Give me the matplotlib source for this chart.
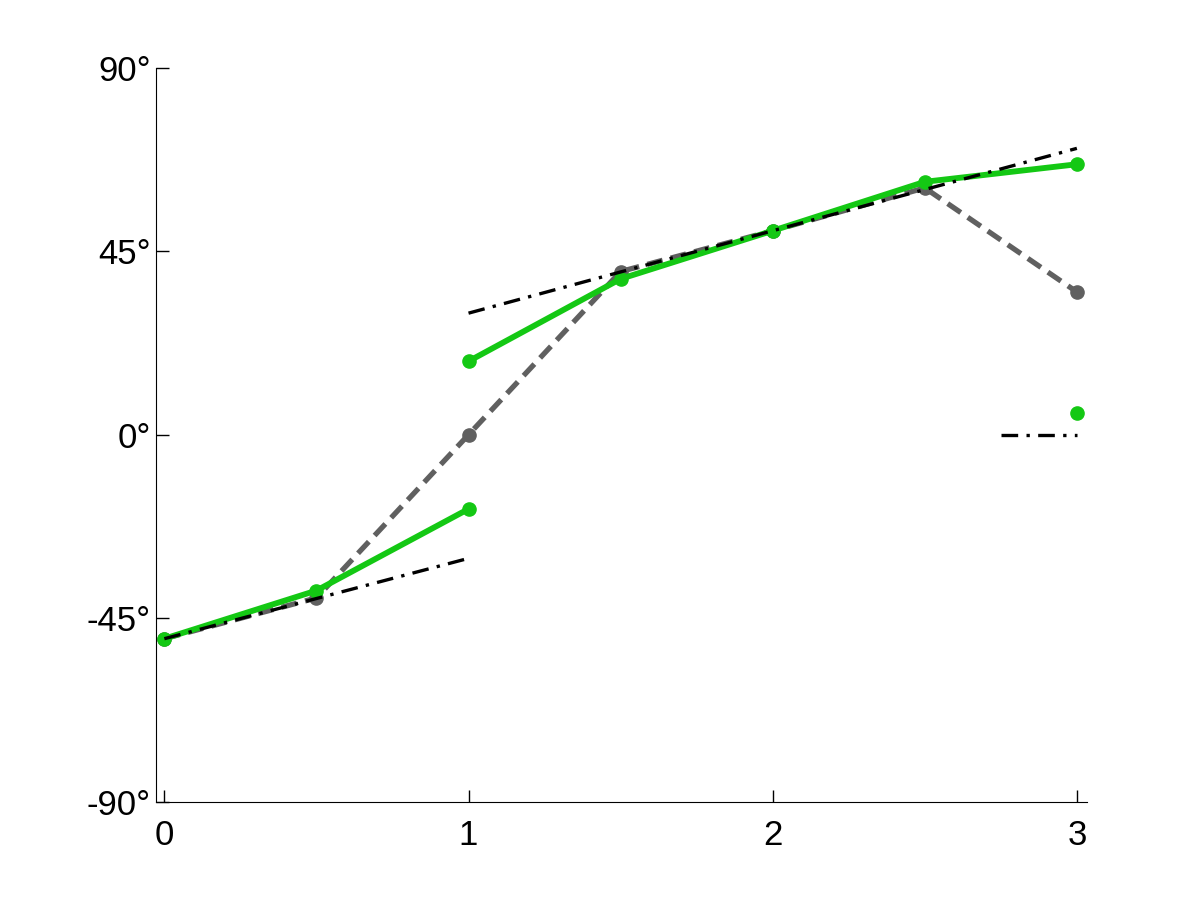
import numpy as np
import matplotlib
matplotlib.use("Agg")
from matplotlib import pyplot as plt

# data (degrees)
x_gray = [0, 0.5, 1, 1.5, 2, 2.5, 3]
y_gray = [-50, -40, 0, 40, 50, 60.5, 35]

x_green_a = [0, 0.5, 1]
y_green_a = [-50, -38.2, -18.2]
x_green_b = [1, 1.5, 2, 2.5, 3]
y_green_b = [18, 38.2, 50, 62, 66.3]
x_green_pt = [3]
y_green_pt = [5.4]

x_fit_a = [0, 1]
y_fit_a = [-50, -30.3]
x_fit_b = [1, 3]
y_fit_b = [29.8, 70.2]
x_fit_c = [2.75, 3]
y_fit_c = [0, 0]

xticks = [0, 1, 2, 3]
yticks = [-90, -45, 0, 45, 90]
ytick_labels = ["-90°", "-45°", "0°", "45°", "90°"]

GRAY = "#606060"
GREEN = "#14c814"

plt.rcParams["font.family"] = ["Liberation Sans", "DejaVu Sans"]

fig = plt.figure(figsize=(12.01, 9.01), dpi=100)
ax = fig.add_axes([0.13, 0.11, 0.775, 0.815])

ax.plot(x_gray, y_gray, color=GRAY, lw=3.8, ls=(0, (3, 1.6)),
        marker="o", ms=9.5, mec=GRAY, mfc=GRAY)

for xs, ys in [(x_green_a, y_green_a), (x_green_b, y_green_b), (x_green_pt, y_green_pt)]:
    ax.plot(xs, ys, color=GREEN, lw=4.2, marker="o", ms=9.5, mec=GREEN, mfc=GREEN)

for xs, ys in [(x_fit_a, y_fit_a), (x_fit_b, y_fit_b), (x_fit_c, y_fit_c)]:
    ax.plot(xs, ys, color="black", lw=2.4, ls=(0, (5, 2.5, 1, 2.5)))

ax.set_xlim(-0.027, 3.033)
ax.set_ylim(-90, 90)
ax.set_xticks(xticks)
ax.set_xticklabels([str(t) for t in xticks])
ax.set_yticks(yticks)
ax.set_yticklabels(ytick_labels)

ax.spines["top"].set_visible(False)
ax.spines["right"].set_visible(False)
ax.tick_params(direction="in", length=9, width=1, labelsize=25)
ax.tick_params(axis="x", pad=12)
ax.tick_params(axis="y", pad=4)

fig.savefig("out.png", dpi=100)
